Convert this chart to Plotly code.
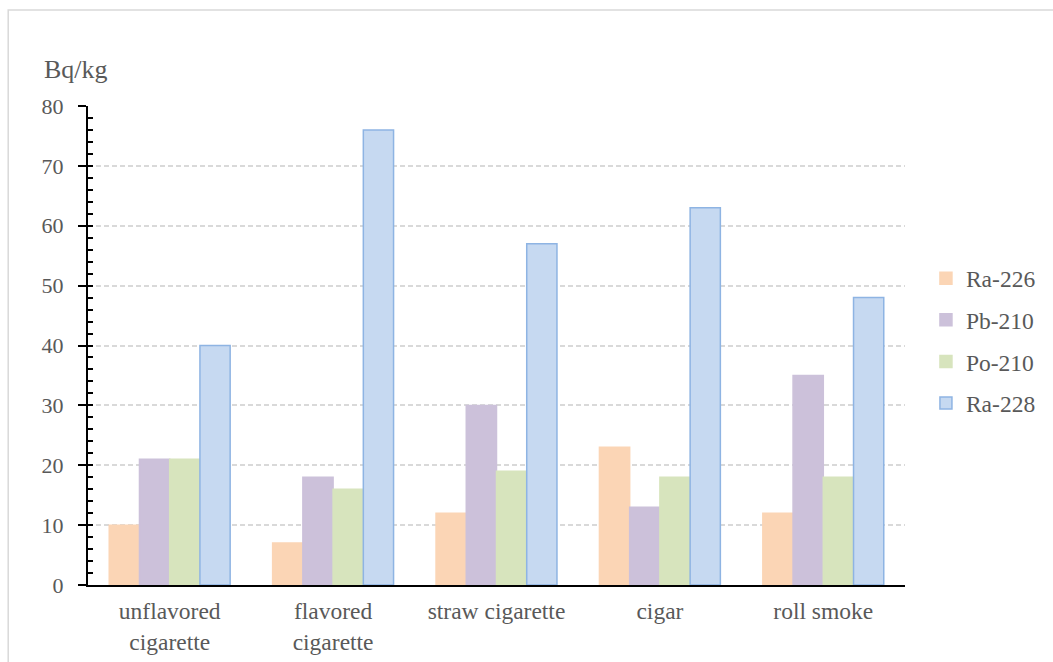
import plotly.graph_objects as go

categories = ["unflavored<br>cigarette", "flavored<br>cigarette", "straw cigarette", "cigar", "roll smoke"]
ra226 = [10, 7, 12, 23, 12]
pb210 = [21, 18, 30, 13, 35]
po210 = [21, 16, 19, 18, 18]
ra228 = [40, 76, 57, 63, 48]

series = [
    ("Ra-226", ra226, "#FBD5B5", "#FBD5B5"),
    ("Pb-210", pb210, "#CCC1DA", "#CCC1DA"),
    ("Po-210", po210, "#D7E4BD", "#D7E4BD"),
    ("Ra-228", ra228, "#C6D9F1", "#8EB4E3"),
]

FONT = "Liberation Serif, 'Times New Roman', serif"
TXT = "#595959"
L, R, T, B = 88, 907, 106, 585
PW, PH = R - L, B - T

fig = go.Figure()
for i, (name, vals, fill, line) in enumerate(series):
    fig.add_trace(go.Bar(
        name=name, x=categories, y=vals, legendgroup=name,
        marker=dict(color=fill, line=dict(color=line, width=1.5)),
    ))

fig.add_trace(go.Scatter(x=[categories[0]], y=[None], yaxis="y2", showlegend=False, hoverinfo="skip"))

fig.update_layout(
    width=1053, height=662,
    margin=dict(l=L, r=1053 - R, t=T, b=662 - B),
    paper_bgcolor="white", plot_bgcolor="white",
    barmode="group", bargap=0.26, bargroupgap=0,
    font=dict(family=FONT, size=23, color=TXT),
    xaxis=dict(showline=True, linecolor="black", linewidth=2, ticks="",
               ticklabelstandoff=4, automargin=False,
               tickfont=dict(family=FONT, size=23.5, color=TXT), showgrid=False),
    yaxis=dict(range=[0, 80], dtick=10, showline=True, linecolor="black", linewidth=2,
               ticks="outside", ticklen=8, tickwidth=2, tickcolor="black",
               ticklabelstandoff=10, automargin=False,
               showgrid=True, gridcolor="#D9D9D9", griddash="5px,3px", gridwidth=1.5,
               tickfont=dict(family=FONT, size=22, color=TXT), zeroline=False),
    yaxis2=dict(range=[0, 80], dtick=10, overlaying="y", side="left", showline=False,
                ticks="inside", ticklen=5, tickwidth=2, tickcolor="black",
                showticklabels=False, showgrid=False, zeroline=False, automargin=False,
                minor=dict(dtick=2, ticks="inside", ticklen=5, tickwidth=1.5, tickcolor="black")),
    legend=dict(x=(928 - L) / PW, y=(B - 341) / PH,
                yanchor="middle", xanchor="left",
                font=dict(family=FONT, size=23.5, color=TXT), tracegroupgap=8,
                itemwidth=30),
    showlegend=True,
)

fig.add_annotation(text="Bq/kg", xref="paper", yref="paper", x=(42 - L) / PW, y=(B - 70) / PH,
                   xanchor="left", yanchor="middle", showarrow=False,
                   font=dict(family=FONT, size=26, color=TXT))

fig.add_shape(type="rect", xref="paper", yref="paper",
              x0=(8 - L) / PW, x1=(1100 - L) / PW, y0=-0.3, y1=(B - 10) / PH,
              line=dict(color="#D9D9D9", width=1.5), fillcolor="rgba(0,0,0,0)", layer="below")

fig.write_html("out.html")
